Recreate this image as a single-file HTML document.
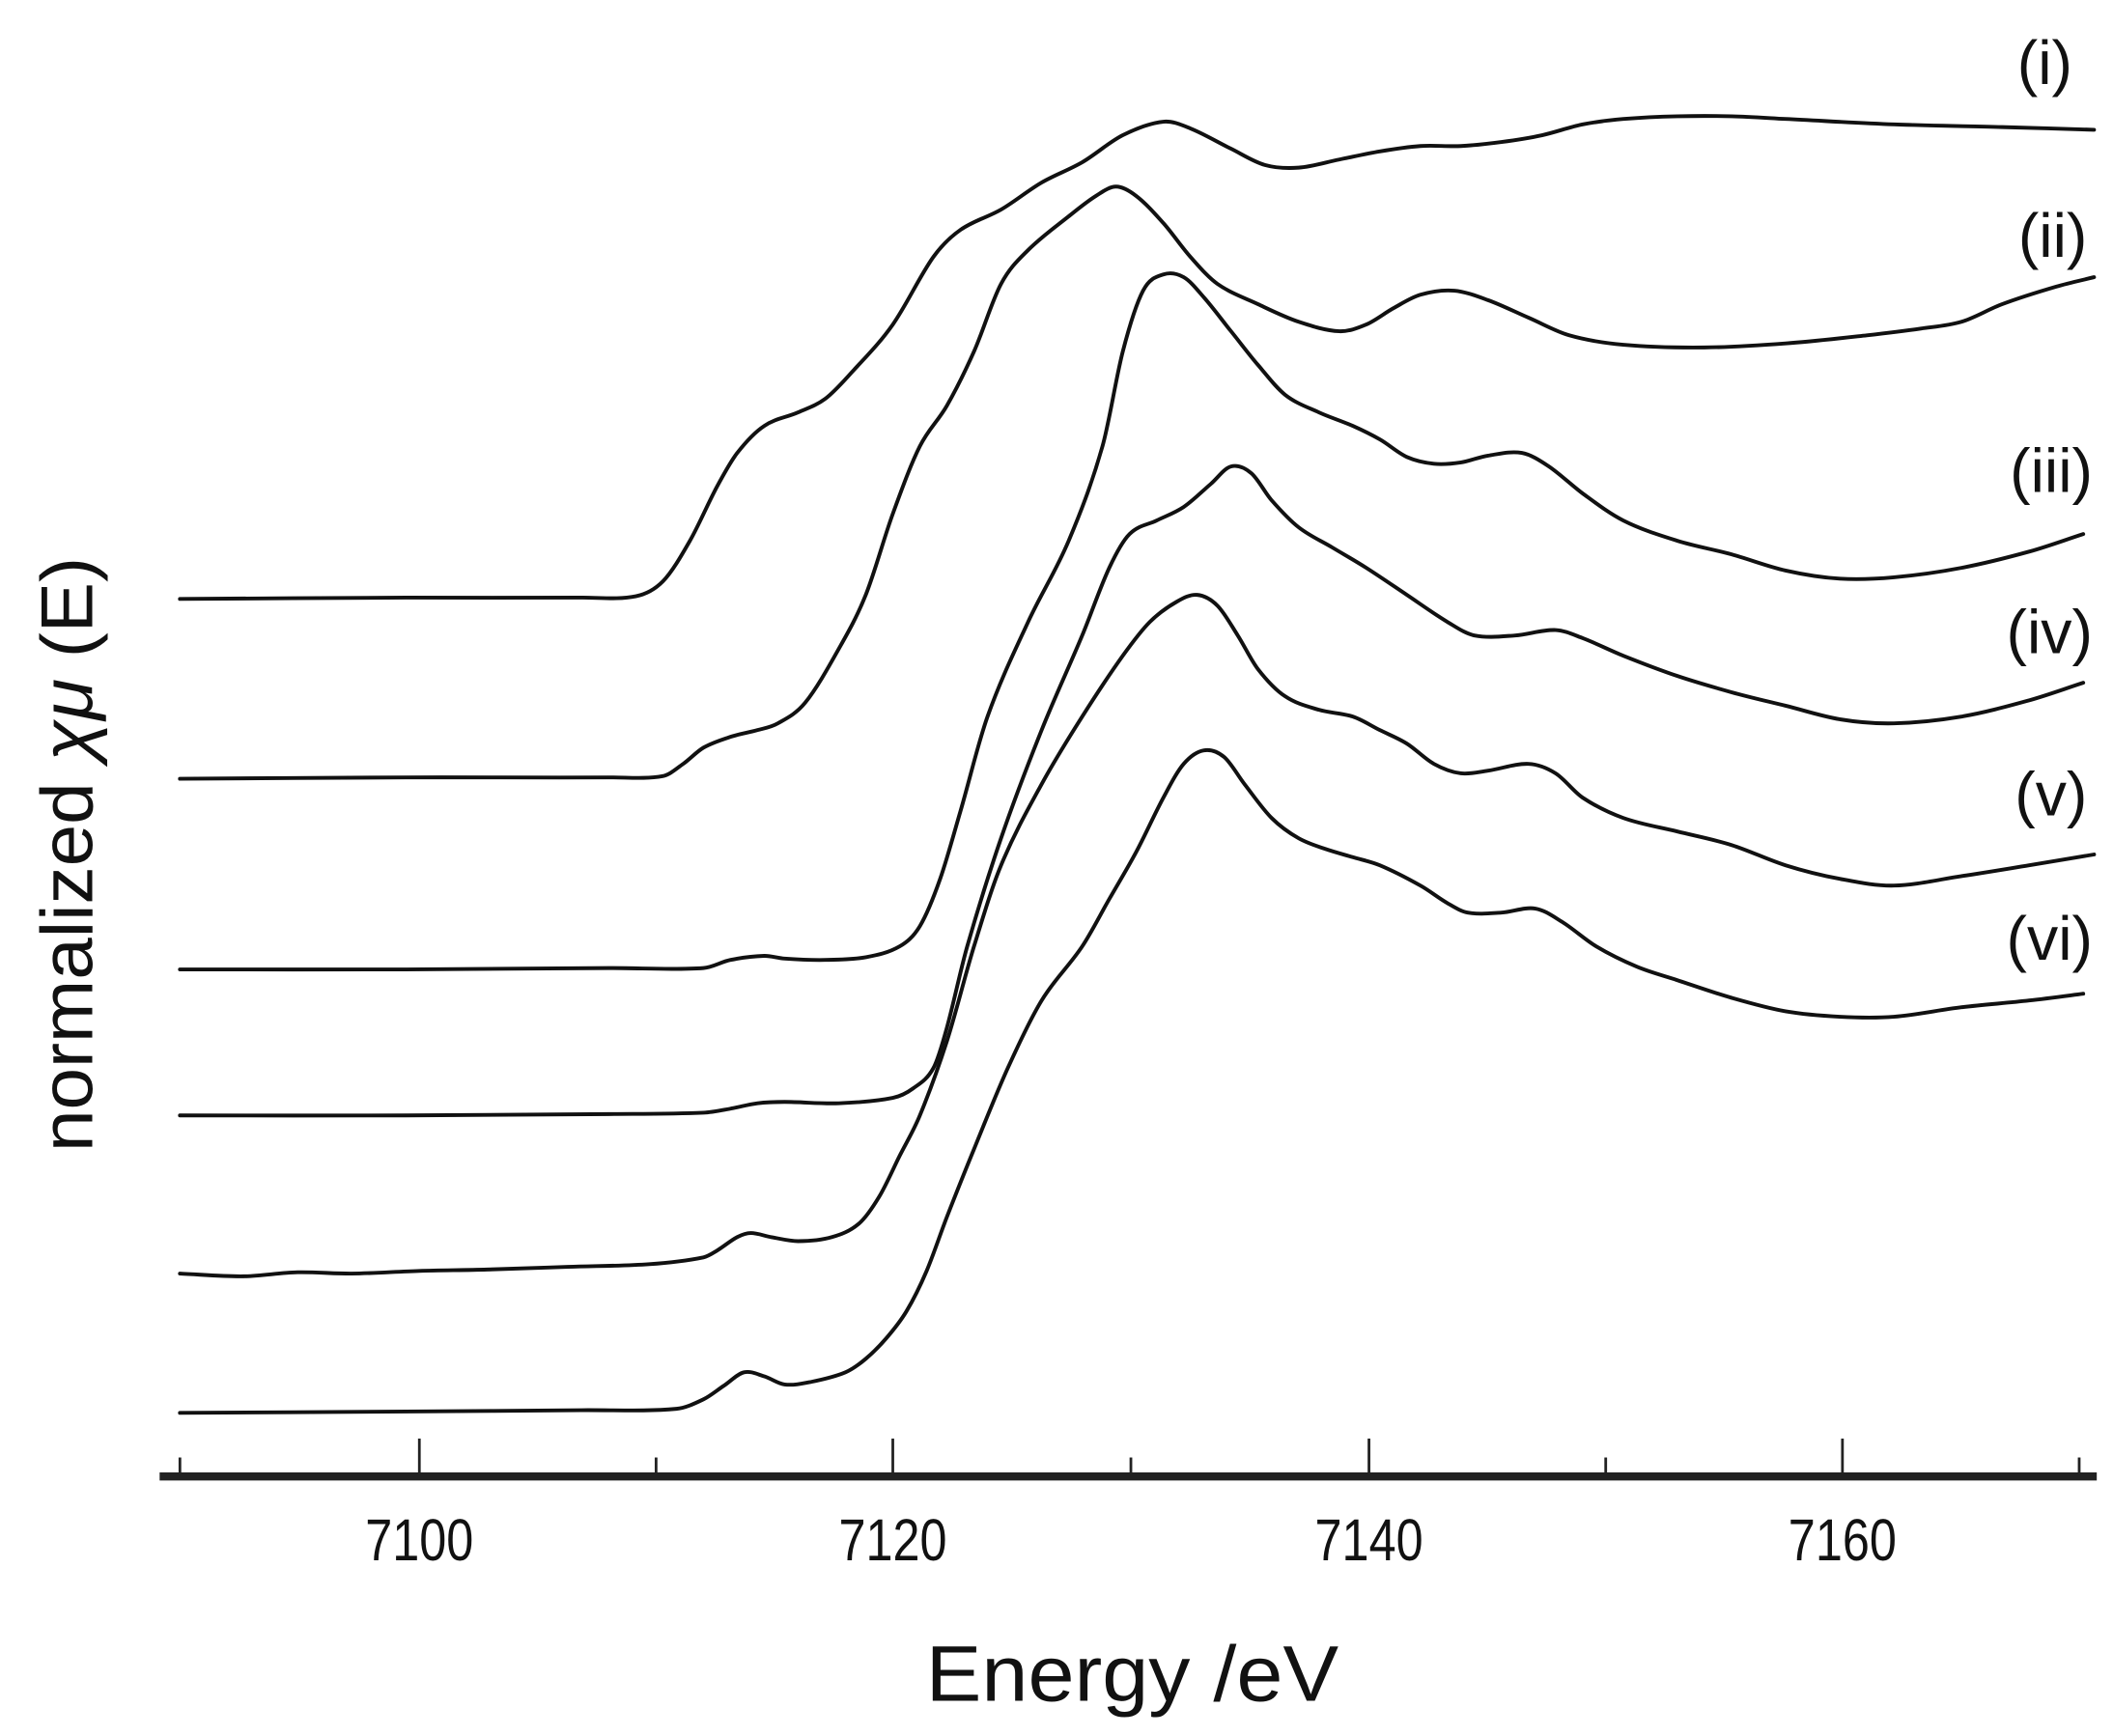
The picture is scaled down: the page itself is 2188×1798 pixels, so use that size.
<!DOCTYPE html>
<html><head><style>html,body{margin:0;padding:0;background:#fff}svg{display:block}</style></head>
<body>
<svg id="s" width="2188" height="1798" viewBox="0 0 1562 1284" preserveAspectRatio="none" xmlns="http://www.w3.org/2000/svg" font-family="'Liberation Sans', sans-serif">
<g id="curves" fill="none" stroke="#111" stroke-width="2.8" stroke-linejoin="round" stroke-linecap="round">
<polyline points="133,443 300,442 430,442 470,441 490,430 510,400 530,360 545,335 565,315 590,305 610,295 630,275 660,240 690,190 710,170 740,155 770,135 800,120 830,100 860,90 880,95 910,110 935,122 960,124 990,118 1020,112 1050,108 1080,108 1110,105 1140,100 1170,92 1200,88 1240,86 1280,86 1320,88 1400,92 1480,94 1548,96"/>
<polyline points="133,576 300,575 450,575 490,574 505,565 520,553 540,545 560,540 575,535 595,520 620,480 640,440 660,380 680,330 700,300 720,260 740,210 760,185 790,160 810,145 825,138 840,145 860,165 880,190 900,210 930,225 960,238 990,245 1010,240 1030,228 1050,218 1075,215 1100,222 1130,235 1160,248 1200,255 1260,257 1320,254 1380,248 1420,243 1450,238 1480,225 1520,212 1548,205"/>
<polyline points="133,717 300,717 450,716 520,716 540,710 565,707 580,709 610,710 640,708 665,700 680,685 695,650 710,600 730,530 760,460 790,400 815,330 830,260 845,215 860,203 875,205 890,220 910,245 930,270 950,292 975,305 1000,315 1020,325 1040,338 1060,343 1080,342 1100,337 1125,335 1145,345 1170,365 1200,385 1240,400 1280,410 1320,422 1360,428 1400,427 1450,420 1500,408 1540,395"/>
<polyline points="133,825 300,825 450,824 520,823 540,820 560,816 580,815 620,816 660,812 675,805 690,790 700,760 715,700 740,620 770,540 800,470 820,420 835,395 855,385 875,375 895,358 910,345 925,350 940,370 960,390 985,405 1010,420 1040,440 1070,460 1090,470 1120,470 1150,466 1170,472 1200,485 1240,500 1280,512 1320,522 1360,532 1400,535 1450,530 1500,518 1540,505"/>
<polyline points="133,942 180,944 220,941 260,942 310,940 360,939 420,937 480,935 520,930 530,925 545,915 555,912 570,915 590,918 615,915 635,905 650,885 665,855 680,825 700,770 720,700 740,640 770,580 800,530 830,485 850,460 870,445 885,440 900,448 915,470 930,495 950,515 975,525 1000,530 1020,540 1040,550 1060,565 1080,572 1100,570 1130,565 1150,572 1170,590 1200,605 1240,615 1280,625 1320,640 1360,650 1400,655 1450,648 1500,640 1548,632"/>
<polyline points="133,1045 300,1044 430,1043 500,1042 520,1035 535,1025 550,1015 565,1018 580,1024 600,1022 625,1015 640,1005 655,990 670,970 685,940 700,900 720,850 745,790 770,740 800,700 820,665 840,630 860,590 875,565 890,555 905,560 920,580 940,605 960,620 980,628 1000,634 1020,640 1050,655 1070,668 1085,675 1110,675 1135,672 1155,682 1180,700 1210,715 1240,725 1280,738 1320,748 1360,752 1400,752 1450,745 1500,740 1540,735"/>
</g>
<g stroke="#222">
<line x1="118" y1="1092" x2="1550" y2="1092" stroke-width="6"/>
<g stroke-width="2">
<line x1="133" y1="1092" x2="133" y2="1078"/><line x1="310" y1="1092" x2="310" y2="1064"/>
<line x1="485" y1="1092" x2="485" y2="1078"/><line x1="660" y1="1092" x2="660" y2="1064"/>
<line x1="836" y1="1092" x2="836" y2="1078"/><line x1="1012" y1="1092" x2="1012" y2="1064"/>
<line x1="1187" y1="1092" x2="1187" y2="1078"/><line x1="1362" y1="1092" x2="1362" y2="1064"/>
<line x1="1537" y1="1092" x2="1537" y2="1078"/>
</g></g>
<g font-size="44" fill="#111" text-anchor="middle">
<text x="310" y="1154" textLength="80" lengthAdjust="spacingAndGlyphs">7100</text><text x="660" y="1154" textLength="80" lengthAdjust="spacingAndGlyphs">7120</text>
<text x="1012" y="1154" textLength="80" lengthAdjust="spacingAndGlyphs">7140</text><text x="1362" y="1154" textLength="80" lengthAdjust="spacingAndGlyphs">7160</text>
</g>
<text x="837" y="1258" font-size="58" text-anchor="middle" fill="#111" textLength="305" lengthAdjust="spacingAndGlyphs">Energy /eV</text>
<text transform="translate(68,632) rotate(-90)" font-size="54" text-anchor="middle" fill="#111" textLength="440" lengthAdjust="spacingAndGlyphs">normalized <tspan font-style="italic">χμ</tspan> (E)</text>
<g font-size="46" fill="#111" text-anchor="end">
<text x="1532" y="62">(i)</text><text x="1543" y="190">(ii)</text>
<text x="1547" y="364">(iii)</text><text x="1547" y="483">(iv)</text>
<text x="1543" y="603">(v)</text><text x="1547" y="710">(vi)</text>
</g>
</svg>
<script>
document.querySelectorAll('#curves polyline').forEach(function(pl){
  var p=pl.getAttribute('points').trim().split(/\s+/).map(function(s){return s.split(',').map(Number)});
  var d='M'+p[0][0]+','+p[0][1];
  function cl(v,a,b){var lo=Math.min(a,b),hi=Math.max(a,b);return Math.max(lo,Math.min(hi,v));}
  for(var i=0;i<p.length-1;i++){
    var p0=p[i-1]||p[i],p1=p[i],p2=p[i+1],p3=p[i+2]||p2;
    var dx=p2[0]-p1[0];
    var s1=(p2[1]-p0[1])/((p2[0]-p0[0])||1), s2=(p3[1]-p1[1])/((p3[0]-p1[0])||1);
    var c1x=p1[0]+dx/3,c1y=p1[1]+s1*dx/3;
    var c2x=p2[0]-dx/3,c2y=p2[1]-s2*dx/3;
    d+=' C'+c1x.toFixed(1)+','+c1y.toFixed(1)+' '+c2x.toFixed(1)+','+c2y.toFixed(1)+' '+p2[0]+','+p2[1];
  }
  var path=document.createElementNS('http://www.w3.org/2000/svg','path');
  path.setAttribute('d',d);
  pl.parentNode.replaceChild(path,pl);
});
</script>
</body></html>
